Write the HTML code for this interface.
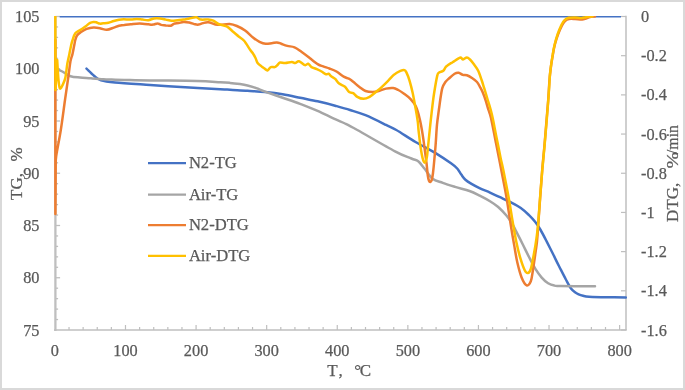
<!DOCTYPE html>
<html><head><meta charset="utf-8"><style>
html,body{margin:0;padding:0;background:#fff;}
#c{position:relative;width:685px;height:390px;overflow:hidden;background:#fff;}
#c svg{position:absolute;left:0;top:0;will-change:transform;}
text{font-family:"Liberation Serif",serif;font-size:16.3px;fill:#595959;stroke:#595959;stroke-width:0.25px;}
text.t{font-size:17px;}
</style></head><body><div id="c">
<svg width="685" height="390" viewBox="0 0 685 390">
<rect x="1" y="1" width="683" height="388" fill="#fff" stroke="#D9D9D9" stroke-width="2"/>
<line x1="55.4" y1="16.5" x2="55.4" y2="331.0" stroke="#BFBFBF" stroke-width="2.3"/>
<line x1="54.0" y1="330.0" x2="626.8" y2="330.0" stroke="#BFBFBF" stroke-width="1.5"/>
<line x1="626" y1="15.8" x2="626" y2="330.0" stroke="#BFBFBF" stroke-width="1.5"/>
<line x1="55.4" y1="319.55" x2="58.1" y2="319.55" stroke="#BFBFBF" stroke-width="1.3"/>
<line x1="55.4" y1="309.10" x2="58.1" y2="309.10" stroke="#BFBFBF" stroke-width="1.3"/>
<line x1="55.4" y1="298.65" x2="58.1" y2="298.65" stroke="#BFBFBF" stroke-width="1.3"/>
<line x1="55.4" y1="288.20" x2="58.1" y2="288.20" stroke="#BFBFBF" stroke-width="1.3"/>
<line x1="55.4" y1="277.75" x2="60.1" y2="277.75" stroke="#BFBFBF" stroke-width="1.3"/>
<line x1="55.4" y1="267.30" x2="58.1" y2="267.30" stroke="#BFBFBF" stroke-width="1.3"/>
<line x1="55.4" y1="256.85" x2="58.1" y2="256.85" stroke="#BFBFBF" stroke-width="1.3"/>
<line x1="55.4" y1="246.40" x2="58.1" y2="246.40" stroke="#BFBFBF" stroke-width="1.3"/>
<line x1="55.4" y1="235.95" x2="58.1" y2="235.95" stroke="#BFBFBF" stroke-width="1.3"/>
<line x1="55.4" y1="225.50" x2="60.1" y2="225.50" stroke="#BFBFBF" stroke-width="1.3"/>
<line x1="55.4" y1="215.05" x2="58.1" y2="215.05" stroke="#BFBFBF" stroke-width="1.3"/>
<line x1="55.4" y1="204.60" x2="58.1" y2="204.60" stroke="#BFBFBF" stroke-width="1.3"/>
<line x1="55.4" y1="194.15" x2="58.1" y2="194.15" stroke="#BFBFBF" stroke-width="1.3"/>
<line x1="55.4" y1="183.70" x2="58.1" y2="183.70" stroke="#BFBFBF" stroke-width="1.3"/>
<line x1="55.4" y1="173.25" x2="60.1" y2="173.25" stroke="#BFBFBF" stroke-width="1.3"/>
<line x1="55.4" y1="162.80" x2="58.1" y2="162.80" stroke="#BFBFBF" stroke-width="1.3"/>
<line x1="55.4" y1="152.35" x2="58.1" y2="152.35" stroke="#BFBFBF" stroke-width="1.3"/>
<line x1="55.4" y1="141.90" x2="58.1" y2="141.90" stroke="#BFBFBF" stroke-width="1.3"/>
<line x1="55.4" y1="131.45" x2="58.1" y2="131.45" stroke="#BFBFBF" stroke-width="1.3"/>
<line x1="55.4" y1="121.00" x2="60.1" y2="121.00" stroke="#BFBFBF" stroke-width="1.3"/>
<line x1="55.4" y1="110.55" x2="58.1" y2="110.55" stroke="#BFBFBF" stroke-width="1.3"/>
<line x1="55.4" y1="100.10" x2="58.1" y2="100.10" stroke="#BFBFBF" stroke-width="1.3"/>
<line x1="55.4" y1="89.65" x2="58.1" y2="89.65" stroke="#BFBFBF" stroke-width="1.3"/>
<line x1="55.4" y1="79.20" x2="58.1" y2="79.20" stroke="#BFBFBF" stroke-width="1.3"/>
<line x1="55.4" y1="68.75" x2="60.1" y2="68.75" stroke="#BFBFBF" stroke-width="1.3"/>
<line x1="55.4" y1="58.30" x2="58.1" y2="58.30" stroke="#BFBFBF" stroke-width="1.3"/>
<line x1="55.4" y1="47.85" x2="58.1" y2="47.85" stroke="#BFBFBF" stroke-width="1.3"/>
<line x1="55.4" y1="37.40" x2="58.1" y2="37.40" stroke="#BFBFBF" stroke-width="1.3"/>
<line x1="55.4" y1="26.95" x2="58.1" y2="26.95" stroke="#BFBFBF" stroke-width="1.3"/>
<line x1="55.4" y1="16.50" x2="60.1" y2="16.50" stroke="#BFBFBF" stroke-width="1.3"/>
<line x1="69.02" y1="330.0" x2="69.02" y2="327.0" stroke="#BFBFBF" stroke-width="1.2"/>
<line x1="83.14" y1="330.0" x2="83.14" y2="327.0" stroke="#BFBFBF" stroke-width="1.2"/>
<line x1="97.25" y1="330.0" x2="97.25" y2="327.0" stroke="#BFBFBF" stroke-width="1.2"/>
<line x1="111.37" y1="330.0" x2="111.37" y2="327.0" stroke="#BFBFBF" stroke-width="1.2"/>
<line x1="125.49" y1="330.0" x2="125.49" y2="325.0" stroke="#BFBFBF" stroke-width="1.2"/>
<line x1="139.61" y1="330.0" x2="139.61" y2="327.0" stroke="#BFBFBF" stroke-width="1.2"/>
<line x1="153.73" y1="330.0" x2="153.73" y2="327.0" stroke="#BFBFBF" stroke-width="1.2"/>
<line x1="167.84" y1="330.0" x2="167.84" y2="327.0" stroke="#BFBFBF" stroke-width="1.2"/>
<line x1="181.96" y1="330.0" x2="181.96" y2="327.0" stroke="#BFBFBF" stroke-width="1.2"/>
<line x1="196.08" y1="330.0" x2="196.08" y2="325.0" stroke="#BFBFBF" stroke-width="1.2"/>
<line x1="210.20" y1="330.0" x2="210.20" y2="327.0" stroke="#BFBFBF" stroke-width="1.2"/>
<line x1="224.32" y1="330.0" x2="224.32" y2="327.0" stroke="#BFBFBF" stroke-width="1.2"/>
<line x1="238.43" y1="330.0" x2="238.43" y2="327.0" stroke="#BFBFBF" stroke-width="1.2"/>
<line x1="252.55" y1="330.0" x2="252.55" y2="327.0" stroke="#BFBFBF" stroke-width="1.2"/>
<line x1="266.67" y1="330.0" x2="266.67" y2="325.0" stroke="#BFBFBF" stroke-width="1.2"/>
<line x1="280.79" y1="330.0" x2="280.79" y2="327.0" stroke="#BFBFBF" stroke-width="1.2"/>
<line x1="294.91" y1="330.0" x2="294.91" y2="327.0" stroke="#BFBFBF" stroke-width="1.2"/>
<line x1="309.02" y1="330.0" x2="309.02" y2="327.0" stroke="#BFBFBF" stroke-width="1.2"/>
<line x1="323.14" y1="330.0" x2="323.14" y2="327.0" stroke="#BFBFBF" stroke-width="1.2"/>
<line x1="337.26" y1="330.0" x2="337.26" y2="325.0" stroke="#BFBFBF" stroke-width="1.2"/>
<line x1="351.38" y1="330.0" x2="351.38" y2="327.0" stroke="#BFBFBF" stroke-width="1.2"/>
<line x1="365.50" y1="330.0" x2="365.50" y2="327.0" stroke="#BFBFBF" stroke-width="1.2"/>
<line x1="379.61" y1="330.0" x2="379.61" y2="327.0" stroke="#BFBFBF" stroke-width="1.2"/>
<line x1="393.73" y1="330.0" x2="393.73" y2="327.0" stroke="#BFBFBF" stroke-width="1.2"/>
<line x1="407.85" y1="330.0" x2="407.85" y2="325.0" stroke="#BFBFBF" stroke-width="1.2"/>
<line x1="421.97" y1="330.0" x2="421.97" y2="327.0" stroke="#BFBFBF" stroke-width="1.2"/>
<line x1="436.09" y1="330.0" x2="436.09" y2="327.0" stroke="#BFBFBF" stroke-width="1.2"/>
<line x1="450.20" y1="330.0" x2="450.20" y2="327.0" stroke="#BFBFBF" stroke-width="1.2"/>
<line x1="464.32" y1="330.0" x2="464.32" y2="327.0" stroke="#BFBFBF" stroke-width="1.2"/>
<line x1="478.44" y1="330.0" x2="478.44" y2="325.0" stroke="#BFBFBF" stroke-width="1.2"/>
<line x1="492.56" y1="330.0" x2="492.56" y2="327.0" stroke="#BFBFBF" stroke-width="1.2"/>
<line x1="506.68" y1="330.0" x2="506.68" y2="327.0" stroke="#BFBFBF" stroke-width="1.2"/>
<line x1="520.79" y1="330.0" x2="520.79" y2="327.0" stroke="#BFBFBF" stroke-width="1.2"/>
<line x1="534.91" y1="330.0" x2="534.91" y2="327.0" stroke="#BFBFBF" stroke-width="1.2"/>
<line x1="549.03" y1="330.0" x2="549.03" y2="325.0" stroke="#BFBFBF" stroke-width="1.2"/>
<line x1="563.15" y1="330.0" x2="563.15" y2="327.0" stroke="#BFBFBF" stroke-width="1.2"/>
<line x1="577.27" y1="330.0" x2="577.27" y2="327.0" stroke="#BFBFBF" stroke-width="1.2"/>
<line x1="591.38" y1="330.0" x2="591.38" y2="327.0" stroke="#BFBFBF" stroke-width="1.2"/>
<line x1="605.50" y1="330.0" x2="605.50" y2="327.0" stroke="#BFBFBF" stroke-width="1.2"/>
<line x1="619.62" y1="330.0" x2="619.62" y2="325.0" stroke="#BFBFBF" stroke-width="1.2"/>
<line x1="621" y1="16.50" x2="626" y2="16.50" stroke="#BFBFBF" stroke-width="1.2"/>
<line x1="621" y1="55.69" x2="626" y2="55.69" stroke="#BFBFBF" stroke-width="1.2"/>
<line x1="621" y1="94.88" x2="626" y2="94.88" stroke="#BFBFBF" stroke-width="1.2"/>
<line x1="621" y1="134.06" x2="626" y2="134.06" stroke="#BFBFBF" stroke-width="1.2"/>
<line x1="621" y1="173.25" x2="626" y2="173.25" stroke="#BFBFBF" stroke-width="1.2"/>
<line x1="621" y1="212.44" x2="626" y2="212.44" stroke="#BFBFBF" stroke-width="1.2"/>
<line x1="621" y1="251.62" x2="626" y2="251.62" stroke="#BFBFBF" stroke-width="1.2"/>
<line x1="621" y1="290.81" x2="626" y2="290.81" stroke="#BFBFBF" stroke-width="1.2"/>
<line x1="621" y1="330.00" x2="626" y2="330.00" stroke="#BFBFBF" stroke-width="1.2"/>
<line x1="59.7" y1="16.8" x2="621" y2="16.8" stroke="#4472C4" stroke-width="1.4"/>
<clipPath id="pc"><rect x="0" y="15.9" width="685" height="320"/></clipPath><g clip-path="url(#pc)">
<path d="M86.5 68.6 C87.8 69.8 91.6 73.8 94.0 75.7 C96.4 77.7 97.5 79.2 101.0 80.3 C104.5 81.4 106.8 81.7 115.0 82.5 C123.2 83.3 138.4 84.2 150.1 85.0 C161.8 85.8 173.4 86.6 185.1 87.3 C196.8 88.0 212.7 88.8 220.2 89.2 C227.7 89.6 225.4 89.5 230.0 89.8 C234.6 90.1 241.7 90.4 247.5 90.8 C253.3 91.2 259.1 91.4 265.0 92.0 C270.9 92.6 276.8 93.3 282.6 94.3 C288.5 95.3 294.3 96.6 300.1 97.8 C305.9 99.0 311.8 100.0 317.6 101.3 C323.4 102.6 329.7 104.2 335.1 105.7 C340.5 107.2 344.9 108.4 350.0 110.0 C355.1 111.6 359.5 112.7 365.5 115.2 C371.5 117.7 380.9 122.4 386.0 124.9 C391.1 127.4 391.4 127.2 396.3 130.0 C401.2 132.8 408.9 138.1 415.5 142.0 C422.1 145.9 430.1 149.8 436.0 153.3 C441.9 156.9 447.5 160.8 451.0 163.3 C454.5 165.8 455.5 166.6 457.2 168.5 C458.9 170.4 459.9 172.7 461.3 174.6 C462.7 176.5 463.7 178.2 465.4 179.7 C467.1 181.2 469.1 182.4 471.5 183.8 C473.9 185.2 476.9 186.8 480.0 188.3 C483.1 189.8 486.7 191.1 490.0 192.6 C493.3 194.1 496.6 195.6 500.0 197.2 C503.4 198.8 507.0 200.4 510.5 202.2 C514.0 204.0 517.7 205.8 520.8 208.0 C523.9 210.2 526.6 212.8 529.0 215.1 C531.4 217.4 533.2 219.4 535.1 221.8 C537.0 224.2 538.4 226.3 540.3 229.5 C542.2 232.7 544.4 237.0 546.5 241.1 C548.6 245.2 550.8 249.6 552.9 253.8 C555.0 258.0 557.0 262.2 559.2 266.5 C561.4 270.8 563.9 275.8 565.9 279.5 C567.9 283.2 569.5 286.4 571.0 288.5 C572.5 290.6 573.7 291.3 575.0 292.3 C576.3 293.3 577.4 293.8 578.7 294.4 C580.0 295.0 581.3 295.4 583.0 295.8 C584.7 296.2 585.1 296.5 589.0 296.7 C592.9 296.9 600.2 297.1 606.3 297.2 C612.4 297.3 622.5 297.4 625.8 297.4" fill="none" stroke="#4472C4" stroke-width="2.5" stroke-linejoin="round" stroke-linecap="round"/>
<path d="M55.3 68.5 C56.5 69.0 59.8 70.2 62.3 71.5 C64.8 72.8 67.5 75.2 70.5 76.2 C73.5 77.2 76.6 77.2 80.0 77.5 C83.4 77.8 87.1 78.0 91.0 78.3 C94.9 78.6 100.0 79.0 103.4 79.2 C106.8 79.4 107.1 79.4 111.5 79.6 C115.9 79.8 123.6 80.0 130.0 80.1 C136.4 80.2 139.0 80.2 150.1 80.4 C161.2 80.6 185.1 80.7 196.8 81.0 C208.5 81.3 214.7 81.9 220.2 82.2 C225.7 82.5 226.7 82.6 230.0 82.9 C233.3 83.2 237.1 83.7 240.0 84.1 C242.9 84.5 244.8 84.8 247.5 85.5 C250.2 86.2 253.4 87.1 256.3 88.1 C259.2 89.1 260.6 90.0 265.0 91.6 C269.4 93.2 276.8 95.8 282.6 97.8 C288.5 99.8 294.3 101.6 300.1 103.8 C305.9 106.0 311.8 108.2 317.6 110.8 C323.4 113.4 330.5 117.1 335.1 119.2 C339.7 121.3 341.3 121.7 345.0 123.5 C348.7 125.3 349.0 125.4 357.3 130.0 C365.6 134.6 386.0 146.6 395.0 151.3 C404.0 156.1 407.5 156.8 411.4 158.5 C415.3 160.2 416.0 159.6 418.2 161.3 C420.4 163.0 422.0 165.6 424.4 168.5 C426.8 171.4 429.5 176.3 432.6 178.7 C435.7 181.1 439.1 181.4 442.8 182.8 C446.6 184.2 450.7 185.5 455.1 186.9 C459.6 188.3 465.4 189.6 469.5 191.0 C473.6 192.4 476.3 193.9 479.7 195.6 C483.1 197.3 486.9 199.3 490.0 201.2 C493.1 203.1 495.5 204.6 498.2 207.0 C500.9 209.4 504.0 212.6 506.4 215.5 C508.8 218.4 511.0 221.7 512.6 224.4 C514.2 227.1 514.6 228.3 516.3 231.6 C518.0 234.9 520.6 240.1 522.7 244.3 C524.8 248.5 526.9 252.9 529.0 257.0 C531.1 261.1 533.3 265.5 535.4 268.9 C537.5 272.3 539.6 275.2 541.7 277.6 C543.8 280.0 546.0 281.9 548.1 283.2 C550.2 284.5 552.4 285.2 554.4 285.6 C556.4 286.1 556.6 285.8 560.0 285.9 C563.4 286.0 569.2 286.1 575.0 286.2 C580.8 286.3 591.7 286.3 595.0 286.3" fill="none" stroke="#A5A5A5" stroke-width="2.5" stroke-linejoin="round" stroke-linecap="round"/>
<path d="M55.3 40.0 C55.3 69.0 55.4 185.0 55.4 214.0 C55.5 205.8 55.7 173.2 55.7 165.0 C55.8 163.5 55.4 161.8 56.2 156.0 C57.1 150.2 59.3 139.3 60.8 130.0 C62.3 120.7 63.7 109.2 65.0 100.0 C66.3 90.8 67.7 81.5 68.6 75.0 C69.5 68.5 69.8 64.5 70.5 61.0 C71.2 57.5 71.9 56.7 72.5 54.0 C73.1 51.3 73.8 47.3 74.3 45.0 C74.8 42.7 74.8 41.6 75.3 40.0 C75.8 38.4 76.1 36.8 77.0 35.5 C77.9 34.2 78.9 33.5 80.5 32.4 C82.1 31.3 84.4 29.7 86.6 28.9 C88.8 28.1 91.3 27.7 93.6 27.6 C95.9 27.5 98.4 28.0 100.6 28.4 C102.8 28.8 104.6 29.9 106.8 29.8 C109.0 29.7 111.8 28.3 113.8 27.6 C115.8 26.9 117.2 26.2 119.0 25.8 C120.8 25.4 122.3 25.1 124.3 24.9 C126.3 24.6 128.7 24.5 130.8 24.3 C132.9 24.1 134.8 23.8 136.7 23.7 C138.6 23.6 140.6 23.6 142.5 23.7 C144.4 23.8 146.7 24.1 148.4 24.3 C150.2 24.5 151.4 24.8 153.0 24.6 C154.6 24.5 156.3 23.3 157.7 23.4 C159.1 23.4 159.8 24.6 161.2 24.9 C162.6 25.2 164.3 25.2 165.9 25.4 C167.5 25.5 169.2 26.1 170.6 25.8 C172.0 25.5 172.8 24.1 174.1 23.7 C175.4 23.2 177.1 23.4 178.7 23.1 C180.2 22.8 181.6 22.0 183.4 21.9 C185.2 21.8 187.4 22.1 189.3 22.5 C191.2 22.9 193.6 23.9 195.1 24.3 C196.6 24.7 197.3 24.8 198.6 24.6 C199.9 24.4 201.4 23.5 203.0 23.1 C204.6 22.7 206.1 22.1 208.2 22.3 C210.3 22.5 213.3 24.0 215.4 24.4 C217.5 24.8 218.1 24.9 220.5 24.8 C222.9 24.7 227.0 23.8 229.7 24.0 C232.4 24.2 234.3 24.9 236.9 26.0 C239.5 27.1 242.4 28.6 245.1 30.5 C247.8 32.5 250.9 35.8 253.3 37.7 C255.7 39.6 257.4 40.8 259.5 41.8 C261.6 42.8 263.6 43.6 265.6 43.8 C267.7 44.0 269.9 43.4 271.8 43.2 C273.7 43.0 275.3 42.3 276.9 42.4 C278.5 42.5 279.5 43.2 281.2 43.8 C282.9 44.4 285.1 45.3 287.3 45.9 C289.5 46.5 292.1 46.3 294.5 47.3 C296.9 48.3 299.1 50.2 301.7 52.0 C304.3 53.8 307.2 56.1 309.9 58.2 C312.6 60.3 315.9 63.0 318.1 64.4 C320.3 65.8 321.3 65.7 323.2 66.4 C325.1 67.1 327.2 67.7 329.4 68.5 C331.6 69.3 334.1 70.1 336.5 71.5 C338.9 72.9 341.6 75.5 343.7 76.7 C345.8 77.9 347.2 77.9 348.8 78.7 C350.4 79.5 351.4 80.4 353.2 81.8 C355.0 83.2 357.3 85.4 359.4 86.9 C361.4 88.4 363.3 90.2 365.5 91.0 C367.7 91.8 370.5 92.0 372.7 92.0 C374.9 92.0 376.6 91.6 378.8 91.0 C381.0 90.4 383.6 89.1 386.0 88.6 C388.4 88.1 391.1 87.8 393.2 88.0 C395.2 88.2 396.4 89.0 398.3 90.0 C400.2 91.0 402.4 92.6 404.5 94.1 C406.6 95.6 408.7 97.2 410.6 99.2 C412.5 101.2 414.3 103.2 415.8 106.4 C417.3 109.6 418.5 113.8 419.6 118.5 C420.8 123.2 421.9 129.8 422.7 134.9 C423.5 140.0 424.1 144.5 424.7 149.2 C425.3 153.9 426.0 158.6 426.5 163.0 C427.0 167.4 427.4 172.5 427.8 175.5 C428.2 178.5 428.6 179.7 429.0 180.8 C429.4 181.9 429.9 182.1 430.3 182.0 C430.8 181.9 431.2 181.7 431.7 180.2 C432.1 178.7 432.6 176.4 433.0 173.0 C433.4 169.6 433.9 164.7 434.3 160.0 C434.7 155.3 435.2 150.9 435.6 145.0 C436.1 139.1 436.4 130.7 437.0 124.6 C437.6 118.5 438.6 112.4 439.1 108.2 C439.7 104.0 439.8 102.8 440.3 99.5 C440.8 96.2 441.5 91.1 442.3 88.2 C443.1 85.3 444.2 83.7 445.4 82.0 C446.6 80.3 448.0 79.4 449.5 78.0 C451.0 76.6 453.1 74.7 454.6 73.8 C456.1 72.9 457.3 72.6 458.7 72.8 C460.1 73.0 461.4 74.5 462.8 74.9 C464.2 75.3 465.4 74.8 466.9 75.3 C468.4 75.8 470.3 76.9 472.0 78.0 C473.7 79.1 475.6 80.5 477.0 82.0 C478.4 83.5 479.2 85.5 480.1 87.2 C481.1 88.9 481.8 90.1 482.7 92.3 C483.6 94.5 484.7 97.5 485.7 100.5 C486.7 103.5 487.6 107.1 488.5 110.0 C489.4 112.9 489.8 112.5 491.0 118.0 C492.2 123.5 494.3 134.3 496.0 143.0 C497.7 151.7 499.6 161.1 501.3 170.0 C503.0 178.9 504.9 187.8 506.4 196.7 C507.9 205.6 509.2 215.0 510.5 223.3 C511.8 231.6 513.2 239.8 514.4 246.4 C515.5 253.0 516.2 257.7 517.4 262.8 C518.6 267.9 520.0 273.4 521.5 277.2 C523.0 281.0 525.2 284.7 526.7 285.4 C528.2 286.1 529.8 283.7 530.8 281.3 C531.8 278.9 532.1 275.1 532.8 271.0 C533.5 266.9 534.2 261.5 534.9 256.7 C535.6 251.9 536.3 247.6 536.9 242.3 C537.5 237.0 537.7 232.6 538.2 225.0 C538.8 217.4 539.5 206.2 540.2 197.0 C540.9 187.8 541.5 178.7 542.2 170.0 C542.9 161.3 543.8 153.2 544.5 145.0 C545.2 136.8 545.9 128.0 546.5 120.5 C547.1 113.0 547.7 106.8 548.2 100.0 C548.7 93.2 549.1 85.0 549.5 80.0 C549.9 75.0 550.0 74.2 550.5 70.0 C551.0 65.8 552.0 59.3 552.8 55.0 C553.5 50.7 554.1 47.4 555.0 44.0 C555.9 40.6 556.8 37.6 558.0 34.5 C559.2 31.4 560.8 27.8 562.0 25.5 C563.2 23.2 563.8 22.1 565.0 21.0 C566.2 19.9 567.3 19.3 569.0 19.0 C570.7 18.7 572.8 18.9 575.0 19.0 C577.2 19.1 580.2 19.6 582.0 19.5 C583.8 19.4 584.7 18.9 586.0 18.5 C587.3 18.1 588.5 17.3 590.0 17.0 C591.5 16.7 594.2 16.6 595.0 16.5" fill="none" stroke="#ED7D31" stroke-width="2.5" stroke-linejoin="round" stroke-linecap="round"/>
<path d="M55.3 16.5 C55.3 28.8 55.5 77.8 55.5 90.0 C55.8 85.0 56.9 65.0 57.2 60.0 C57.4 63.3 58.0 75.2 58.5 80.0 C59.0 84.8 59.3 87.7 60.0 88.5 C60.7 89.3 61.9 86.4 62.8 84.6 C63.7 82.8 64.6 81.1 65.4 77.6 C66.2 74.0 66.7 67.2 67.4 63.3 C68.1 59.4 68.8 57.0 69.4 54.0 C70.0 51.0 70.7 47.3 71.2 45.0 C71.7 42.7 71.9 42.0 72.6 40.0 C73.3 38.0 74.0 35.0 75.3 33.3 C76.6 31.6 78.8 31.0 80.5 29.8 C82.2 28.6 84.2 27.5 85.8 26.3 C87.4 25.1 88.8 23.5 90.1 22.8 C91.4 22.1 92.6 22.0 93.6 21.9 C94.6 21.8 95.3 22.0 96.3 22.3 C97.3 22.6 98.6 23.5 99.8 23.6 C101.0 23.8 101.8 23.3 103.3 23.2 C104.8 23.1 106.8 23.2 108.5 22.8 C110.2 22.4 112.0 21.5 113.8 21.0 C115.5 20.5 117.3 20.0 119.0 19.7 C120.7 19.4 121.8 19.3 123.8 19.3 C125.8 19.3 128.7 19.7 130.8 19.6 C133.0 19.6 134.8 19.0 136.7 19.0 C138.6 19.0 140.6 19.4 142.5 19.6 C144.4 19.8 146.5 20.4 148.4 20.2 C150.3 20.0 152.3 18.7 154.2 18.4 C156.1 18.1 158.1 18.2 160.0 18.4 C161.9 18.6 164.0 19.2 165.9 19.6 C167.8 20.0 169.8 20.7 171.7 20.8 C173.6 20.9 175.6 20.4 177.6 20.2 C179.6 20.0 181.4 19.9 183.4 19.6 C185.4 19.3 187.2 18.8 189.3 18.4 C191.5 18.0 194.4 17.1 196.3 17.3 C198.2 17.5 198.9 19.2 200.9 19.6 C202.9 20.0 206.1 19.2 208.2 19.4 C210.3 19.6 211.6 19.9 213.3 20.7 C215.0 21.5 216.3 23.1 218.5 24.0 C220.7 24.9 224.3 25.1 226.7 26.4 C229.1 27.6 230.8 29.8 232.8 31.5 C234.9 33.2 237.1 35.2 239.0 36.7 C240.9 38.2 242.2 38.6 244.1 40.8 C246.0 43.0 248.8 47.9 250.3 50.0 C251.8 52.1 252.1 52.2 253.0 53.5 C253.9 54.8 254.7 56.4 255.5 58.0 C256.3 59.6 256.6 61.7 257.6 63.1 C258.6 64.5 260.5 65.5 261.6 66.4 C262.8 67.3 263.5 67.8 264.5 68.5 C265.5 69.2 266.4 70.6 267.5 70.4 C268.6 70.2 269.6 67.6 270.8 67.1 C272.0 66.5 273.6 67.4 274.7 67.1 C275.8 66.8 276.6 65.8 277.5 65.0 C278.4 64.2 278.7 62.8 280.0 62.5 C281.3 62.2 283.2 63.2 285.2 63.1 C287.2 63.0 290.1 62.1 291.8 62.1 C293.5 62.1 293.9 63.2 295.1 63.1 C296.3 63.0 297.4 60.9 299.0 61.2 C300.6 61.5 303.4 64.7 304.9 65.1 C306.4 65.5 307.1 63.5 308.2 63.8 C309.3 64.1 310.1 66.2 311.5 67.1 C312.9 68.0 315.1 68.3 316.8 69.1 C318.6 69.9 320.5 70.8 322.0 71.7 C323.5 72.6 324.9 74.0 326.0 74.3 C327.1 74.6 327.7 73.4 328.6 73.7 C329.5 74.0 330.1 75.4 331.2 76.3 C332.3 77.2 333.9 77.7 335.2 78.9 C336.5 80.1 337.5 82.2 339.1 83.5 C340.7 84.8 343.3 85.4 345.0 86.8 C346.7 88.2 347.7 91.0 349.1 92.0 C350.5 93.0 351.8 92.3 353.2 93.1 C354.6 93.9 355.6 95.8 357.3 96.8 C359.0 97.8 361.4 98.8 363.5 98.8 C365.6 98.8 367.6 97.9 369.6 96.8 C371.7 95.7 373.8 93.7 375.8 92.0 C377.9 90.3 379.8 88.8 381.9 86.9 C383.9 85.0 386.1 82.8 388.1 80.8 C390.2 78.8 392.1 76.2 394.2 74.6 C396.2 72.9 398.7 71.7 400.4 70.9 C402.1 70.2 403.5 69.8 404.5 70.1 C405.5 70.4 405.6 70.8 406.5 72.6 C407.4 74.4 408.6 77.4 409.6 80.8 C410.6 84.2 411.7 88.3 412.7 93.1 C413.7 97.9 414.9 104.7 415.8 109.5 C416.7 114.3 417.3 118.2 417.8 121.8 C418.3 125.3 418.1 126.6 418.6 130.8 C419.1 135.0 419.9 142.6 420.6 147.2 C421.3 151.8 422.0 155.9 422.7 158.5 C423.4 161.1 424.0 162.8 424.7 162.6 C425.4 162.4 426.2 160.3 426.8 157.4 C427.4 154.5 427.6 150.6 428.2 145.1 C428.8 139.6 429.7 130.4 430.3 124.6 C430.9 118.8 431.3 115.5 431.9 110.3 C432.5 105.1 433.2 99.0 434.1 93.3 C435.0 87.6 436.4 79.4 437.2 75.9 C438.0 72.4 438.2 73.2 439.2 72.4 C440.2 71.6 442.1 71.8 443.3 70.8 C444.5 69.8 444.8 67.7 446.4 66.3 C447.9 64.9 450.7 63.4 452.6 62.2 C454.5 61.0 456.3 59.7 457.7 58.9 C459.1 58.1 459.9 57.3 460.8 57.4 C461.7 57.5 461.8 59.5 462.8 59.5 C463.8 59.5 465.7 57.4 466.9 57.4 C468.1 57.4 468.8 58.3 470.0 59.5 C471.2 60.7 472.7 62.7 474.1 64.6 C475.5 66.5 476.9 68.2 478.2 70.8 C479.4 73.4 480.6 77.1 481.6 80.0 C482.6 82.9 483.2 85.1 484.2 88.2 C485.1 91.3 486.3 95.1 487.3 98.5 C488.3 101.9 489.5 105.3 490.4 108.7 C491.3 112.1 491.9 114.3 492.9 119.0 C493.9 123.7 495.1 130.5 496.4 136.9 C497.7 143.3 499.4 151.9 500.5 157.4 C501.6 162.9 502.0 163.4 503.3 170.0 C504.6 176.6 506.9 188.1 508.5 196.7 C510.1 205.2 511.3 213.7 512.6 221.3 C513.9 228.9 515.1 236.1 516.4 242.3 C517.7 248.5 519.1 254.1 520.5 258.7 C521.9 263.3 523.4 267.6 524.6 270.0 C525.8 272.4 526.7 273.3 527.7 273.1 C528.7 272.9 529.8 272.1 530.8 269.0 C531.8 265.9 532.8 259.7 533.8 254.6 C534.8 249.5 535.8 243.4 536.5 238.2 C537.2 233.0 537.6 230.6 538.2 223.3 C538.8 216.0 539.6 203.5 540.3 194.6 C541.0 185.7 541.6 178.2 542.3 170.0 C543.0 161.8 543.9 153.3 544.6 145.1 C545.3 136.8 546.1 128.0 546.7 120.5 C547.3 113.0 547.9 105.9 548.3 100.0 C548.7 94.1 549.0 89.3 549.3 85.0 C549.6 80.7 549.5 78.7 550.0 74.0 C550.5 69.3 551.5 62.0 552.3 57.1 C553.1 52.2 553.7 48.6 554.6 44.8 C555.5 40.9 556.6 37.3 557.7 34.0 C558.9 30.7 560.4 27.1 561.5 24.8 C562.6 22.5 563.4 21.4 564.6 20.2 C565.8 19.0 566.7 18.2 568.5 17.8 C570.3 17.4 573.2 17.5 575.4 17.5 C577.6 17.5 579.7 18.1 581.5 18.0 C583.3 17.9 584.4 17.4 586.2 17.2 C588.0 16.9 591.5 16.6 592.5 16.5" fill="none" stroke="#FFC000" stroke-width="2.5" stroke-linejoin="round" stroke-linecap="round"/>
</g>
<text x="39.5" y="335.50" text-anchor="end">75</text>
<text x="39.5" y="283.25" text-anchor="end">80</text>
<text x="39.5" y="231.00" text-anchor="end">85</text>
<text x="39.5" y="178.75" text-anchor="end">90</text>
<text x="39.5" y="126.50" text-anchor="end">95</text>
<text x="39.5" y="74.25" text-anchor="end">100</text>
<text x="39.5" y="22.00" text-anchor="end">105</text>
<text x="54.90" y="356" text-anchor="middle">0</text>
<text x="125.49" y="356" text-anchor="middle">100</text>
<text x="196.08" y="356" text-anchor="middle">200</text>
<text x="266.67" y="356" text-anchor="middle">300</text>
<text x="337.26" y="356" text-anchor="middle">400</text>
<text x="407.85" y="356" text-anchor="middle">500</text>
<text x="478.44" y="356" text-anchor="middle">600</text>
<text x="549.03" y="356" text-anchor="middle">700</text>
<text x="619.62" y="356" text-anchor="middle">800</text>
<text x="641" y="22.00">0</text>
<text x="641" y="61.19">-0.2</text>
<text x="641" y="100.38">-0.4</text>
<text x="641" y="139.56">-0.6</text>
<text x="641" y="178.75">-0.8</text>
<text x="641" y="217.94">-1</text>
<text x="641" y="257.12">-1.2</text>
<text x="641" y="296.31">-1.4</text>
<text x="641" y="335.50">-1.6</text>
<line x1="148" y1="163.2" x2="186" y2="163.2" stroke="#4472C4" stroke-width="2.25"/>
<text style="font-size:16.6px" x="188.9" y="168.2">N2-TG</text>
<line x1="148" y1="194.6" x2="186" y2="194.6" stroke="#A5A5A5" stroke-width="2.25"/>
<text style="font-size:16.6px" x="188.9" y="199.6">Air-TG</text>
<line x1="148" y1="225.1" x2="186" y2="225.1" stroke="#ED7D31" stroke-width="2.25"/>
<text style="font-size:16.6px" x="188.9" y="230.1">N2-DTG</text>
<line x1="148" y1="255.8" x2="186" y2="255.8" stroke="#FFC000" stroke-width="2.25"/>
<text style="font-size:16.6px" x="188.9" y="260.8">Air-DTG</text>
<text style="font-size:17px" transform="translate(21.7,199.9) rotate(-90)">TG,<tspan x="38.4">%</tspan></text>
<g transform="translate(677.5,221.9) rotate(-90)"><text class="t" x="0" y="0">DTG,</text><text class="t" transform="translate(53.3,0) scale(1.18,1)">%</text><text class="t" x="67.9" y="0" textLength="28.9" lengthAdjust="spacingAndGlyphs">/min</text></g>
<text style="font-size:17px" x="327.3" y="376">T</text>
<text style="font-size:17px" x="338.4" y="375.5">,</text>
<text style="font-size:17px" x="354.2" y="376">&#176;</text>
<text style="font-size:17px" x="359.8" y="376">C</text>
</svg></div></body></html>
